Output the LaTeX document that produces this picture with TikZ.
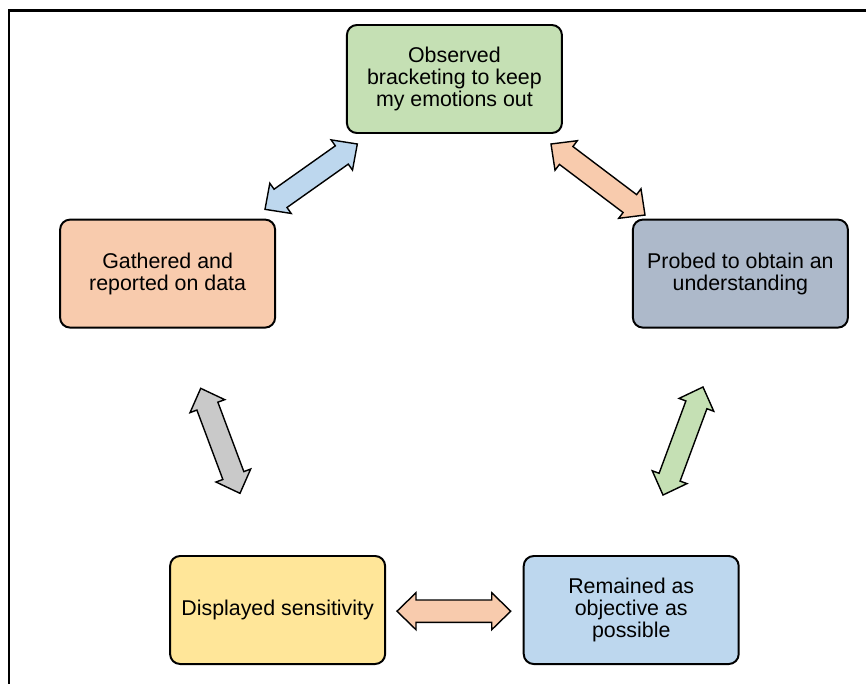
\documentclass[tikz,border=0pt]{standalone}
\usepackage{fontspec}
\setmainfont{Liberation Sans}
\usepackage{tikz}
\usetikzlibrary{calc,positioning}

% fat double arrow between two named coordinates: from, to, fill
\newcommand\dblarrow[3]{%
  \draw[blockarrow, fill=#3]
    (#1) -- ($($(#1)!\hl!(#2)$)!\hw!90:(#2)$) -- ($($(#1)!\hl!(#2)$)!\sw!90:(#2)$)
    -- ($($(#2)!\hl!(#1)$)!\sw!-90:(#1)$) -- ($($(#2)!\hl!(#1)$)!\hw!-90:(#1)$)
    -- (#2) -- ($($(#2)!\hl!(#1)$)!\hw!90:(#1)$) -- ($($(#2)!\hl!(#1)$)!\sw!90:(#1)$)
    -- ($($(#1)!\hl!(#2)$)!\sw!-90:(#2)$) -- ($($(#1)!\hl!(#2)$)!\hw!-90:(#2)$) -- cycle;
}
\newcommand\hl{0.475cm}
\newcommand\hw{0.4625cm}
\newcommand\sw{0.28cm}

\begin{document}
\begin{tikzpicture}[
    every node/.style={font=\fontsize{15.2}{15.6}\selectfont},
    stagebox/.style={draw=black, line width=1.4pt, rounded corners=0.25cm,
      minimum width=5.375cm, minimum height=2.7cm, align=center, inner sep=2pt},
    blockarrow/.style={draw=black, line width=1pt, line join=miter}]
    \definecolor{boxgreen}{HTML}{C5E0B4}
    \definecolor{boxorange}{HTML}{F8CBAD}
    \definecolor{boxslate}{HTML}{ADB9CA}
    \definecolor{boxyellow}{HTML}{FFE699}
    \definecolor{boxblue}{HTML}{BDD7EE}
    \definecolor{arrgray}{HTML}{C9C9C9}

    \useasboundingbox (0,0) rectangle (21.65,-17.075);

    % frame (only top and left edge are in view)
    \draw[line width=2pt] (0.225,-17.2) -- (0.225,-0.2625) -- (21.8,-0.2625);

    % =================== stages ===================
    \node[stagebox, fill=boxgreen] (obs) at (11.36,-1.975)
      {Observed\\bracketing to keep\\my emotions out};
    \node[stagebox, fill=boxorange] (gath) at (4.19,-6.84)
      {Gathered and\\reported on data};
    \node[stagebox, fill=boxslate] (probe) at (18.51,-6.84)
      {Probed to obtain an\\understanding};
    \node[stagebox, fill=boxyellow] (disp) at (6.94,-15.25)
      {Displayed sensitivity};
    \node[stagebox, fill=boxblue] (rem) at (15.78,-15.25)
      {Remained as\\objective as\\possible};

    % =================== arrow ends ===================
    \coordinate (gathObs) at (6.625,-5.233);
    \coordinate (obsGath) at (8.933,-3.6);
    \coordinate (obsProbe) at (13.775,-3.6);
    \coordinate (probeObs) at (16.125,-5.375);
    \coordinate (gathDisp) at (5.018,-9.708);
    \coordinate (dispGath) at (6.0,-12.333);
    \coordinate (probeRem) at (17.575,-9.675);
    \coordinate (remProbe) at (16.575,-12.375);
    \coordinate (dispRem) at (9.925,-15.28);
    \coordinate (remDisp) at (12.768,-15.28);

    % =================== arrows ===================
    \dblarrow{gathObs}{obsGath}{boxblue}
    \dblarrow{obsProbe}{probeObs}{boxorange}
    \dblarrow{gathDisp}{dispGath}{arrgray}
    \dblarrow{probeRem}{remProbe}{boxgreen}
    \dblarrow{dispRem}{remDisp}{boxorange}
\end{tikzpicture}
\end{document}
